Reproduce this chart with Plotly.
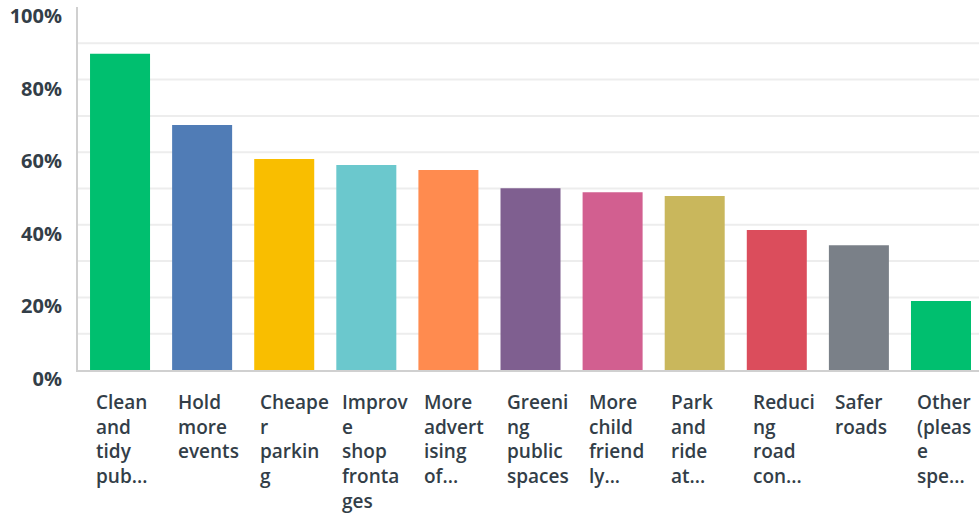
import plotly.graph_objects as go

# Answer options (wrapped as they appear under each bar)
categories = [
    "Clean<br>and<br>tidy<br>pub...",
    "Hold<br>more<br>events",
    "Cheape<br>r<br>parkin<br>g",
    "Improv<br>e<br>shop<br>fronta<br>ges",
    "More<br>advert<br>ising<br>of...",
    "Greeni<br>ng<br>public<br>spaces",
    "More<br>child<br>friend<br>ly...",
    "Park<br>and<br>ride<br>at...",
    "Reduci<br>ng<br>road<br>con...",
    "Safer<br>roads",
    "Other<br>(pleas<br>e<br>spe...",
]

# Share of respondents choosing each option (%)
values = [87.1, 67.5, 58.1, 56.5, 55.1, 50.1, 49.0, 47.9, 38.6, 34.4, 19.0]

bar_colors = [
    "#00BF6F", "#507CB6", "#F9BE00", "#6BC8CD", "#FF8B4F", "#7F5F90",
    "#D25F90", "#C9B75C", "#DB4D5C", "#7A8088", "#00BF6F",
]

y_tick_vals = [0, 20, 40, 60, 80, 100]
y_tick_text = ["0%", "20%", "40%", "60%", "80%", "100%"]

text_color = "#333E48"
label_font = "Open Sans, Roboto, sans-serif"

x_idx = list(range(len(categories)))

fig = go.Figure(
    go.Bar(
        x=x_idx,
        y=values,
        marker=dict(color=bar_colors, line=dict(width=0)),
        width=0.731,
        hoverinfo="skip",
    )
)

# Category labels, left-aligned under each bar
for i, label in enumerate(categories):
    fig.add_annotation(
        x=i, xref="x", y=0, yref="paper",
        text=label, showarrow=False,
        xanchor="left", yanchor="top", align="left",
        xshift=-26, yshift=-17,
        font=dict(family=label_font, size=19, color=text_color, weight=600),
    )

fig.update_layout(
    width=979, height=514,
    margin=dict(l=78, r=0, t=7, b=144),
    paper_bgcolor="white", plot_bgcolor="white",
    showlegend=False,
    xaxis=dict(
        range=[-0.512, 10.463],
        showticklabels=False, showgrid=False, zeroline=False,
        showline=True, linecolor="#D0D0D0", linewidth=2,
        fixedrange=True,
    ),
    yaxis=dict(
        range=[0, 100],
        tickvals=y_tick_vals, ticktext=y_tick_text,
        showgrid=False, zeroline=False,
        showline=True, linecolor="#D0D0D0", linewidth=2,
        ticks="", ticklabelstandoff=10, ticklabelshift=9,
        tickfont=dict(family=label_font, size=20, color=text_color, weight=700),
        fixedrange=True,
    ),
)

# Light horizontal gridlines every 10% (none at the top edge)
for g in range(10, 100, 10):
    fig.add_shape(
        type="line", xref="paper", yref="y",
        x0=0, x1=1, y0=g, y1=g,
        line=dict(color="#EDEDED", width=2),
        layer="below",
    )

fig.write_html("out.html")
